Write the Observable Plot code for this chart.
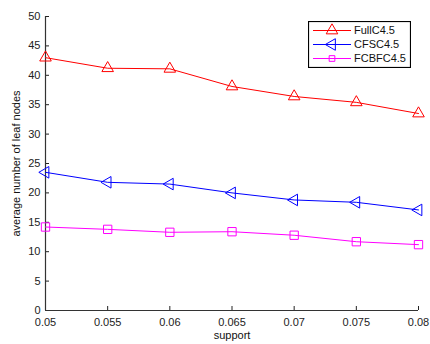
<!DOCTYPE html>
<html>
<head>
<meta charset="utf-8">
<script src="https://cdn.jsdelivr.net/npm/d3@7"></script>
<script src="https://cdn.jsdelivr.net/npm/@observablehq/plot@0.6"></script>
<style>
  body { margin: 0; background: #fff; }
  #wrap { position: relative; width: 430px; height: 344px; font-family: "Liberation Sans", Arial, sans-serif; }
  #legend { position: absolute; left: 308px; top: 21px; }
</style>
</head>
<body>
<div id="wrap"></div>
<script>
const support = [0.05, 0.055, 0.06, 0.065, 0.07, 0.075, 0.08];
const fullC45 = [43.0, 41.2, 41.1, 38.1, 36.4, 35.4, 33.5];
const cfsC45 = [23.5, 21.8, 21.5, 20.0, 18.8, 18.4, 17.1];
const fcbfC45 = [14.2, 13.8, 13.3, 13.4, 12.8, 11.7, 11.2];
const seriesNames = ["FullC4.5", "CFSC4.5", "FCBFC4.5"];
const seriesColors = ["#ff0000", "#0000ff", "#ff00ff"];
const seriesSymbols = ["triangle", "triangle", "square"];
const seriesRotate = [0, -90, 0];
const seriesR = [4.3, 4.3, 4.7];
const xTicks = [0.05, 0.055, 0.06, 0.065, 0.07, 0.075, 0.08];
const yTicks = [0, 5, 10, 15, 20, 25, 30, 35, 40, 45, 50];

const seriesValues = [fullC45, cfsC45, fcbfC45];
const data = seriesNames.flatMap((name, i) =>
  support.map((s, j) => ({series: name, idx: i, x: s, y: seriesValues[i][j]})));

const marks = [];
seriesNames.forEach((name, i) => {
  const d = data.filter(p => p.idx === i);
  marks.push(Plot.line(d, {x: "x", y: "y", stroke: seriesColors[i], strokeWidth: 1}));
  marks.push(Plot.dot(d, {x: "x", y: "y", stroke: seriesColors[i], fill: "none", strokeWidth: 1,
    symbol: seriesSymbols[i], r: seriesR[i], rotate: seriesRotate[i]}));
});

const chart = Plot.plot({
  width: 430,
  height: 344,
  marginLeft: 45,
  marginRight: 12,
  marginTop: 16,
  marginBottom: 34,
  style: {fontFamily: "Liberation Sans, Arial, sans-serif", fontSize: "11px", color: "#222", background: "#fff"},
  x: {domain: [0.05, 0.08]},
  y: {domain: [0, 50]},
  marks: [
    Plot.axisX({ticks: xTicks, tickSize: -4, tickPadding: 12, tickFormat: d => String(+d.toFixed(3)), label: null, fontSize: 11}),
    Plot.axisY({ticks: yTicks, tickSize: -4, tickPadding: 9, label: null, fontSize: 11}),
    Plot.ruleX([0.05], {stroke: "#333", strokeWidth: 1.2}),
    Plot.ruleY([0], {stroke: "#333", strokeWidth: 1.2}),
    ...marks,
    Plot.text(["support"], {frameAnchor: "bottom", lineAnchor: "middle", dy: 25, fontSize: 11, fill: "#111"}),
    Plot.text(["average number of leaf nodes"], {frameAnchor: "left", textAnchor: "middle", lineAnchor: "middle", dx: -29, rotate: -90, fontSize: 11, fill: "#111"})
  ]
});
document.getElementById("wrap").appendChild(chart);

// Legend
const lw = 103, lh = 47;
const legend = d3.create("svg").attr("id", "legend").attr("width", lw).attr("height", lh)
  .style("font-family", "Liberation Sans, Arial, sans-serif").style("font-size", "11px");
legend.append("rect").attr("x", 0.5).attr("y", 0.5).attr("width", lw - 1).attr("height", lh - 1)
  .attr("fill", "#fff").attr("stroke", "#000").attr("stroke-width", 1.2);
seriesNames.forEach((name, i) => {
  const yy = 9.5 + i * 14;
  const g = legend.append("g");
  g.append("line").attr("x1", 5).attr("x2", 43).attr("y1", yy).attr("y2", yy)
    .attr("stroke", seriesColors[i]).attr("stroke-width", 1);
  const sym = seriesSymbols[i] === "square" ? d3.symbolSquare : d3.symbolTriangle;
  const r = i === 2 ? 3.2 : seriesR[i];
  g.append("path").attr("d", d3.symbol(sym, r * r * Math.PI)())
    .attr("transform", `translate(24,${yy}) rotate(${seriesRotate[i]})`)
    .attr("fill", "none").attr("stroke", seriesColors[i]).attr("stroke-width", 1);
  g.append("text").attr("x", 46).attr("y", yy).attr("dy", "0.35em").attr("fill", "#111").text(name);
});
document.getElementById("wrap").appendChild(legend.node());
</script>
</body>
</html>
